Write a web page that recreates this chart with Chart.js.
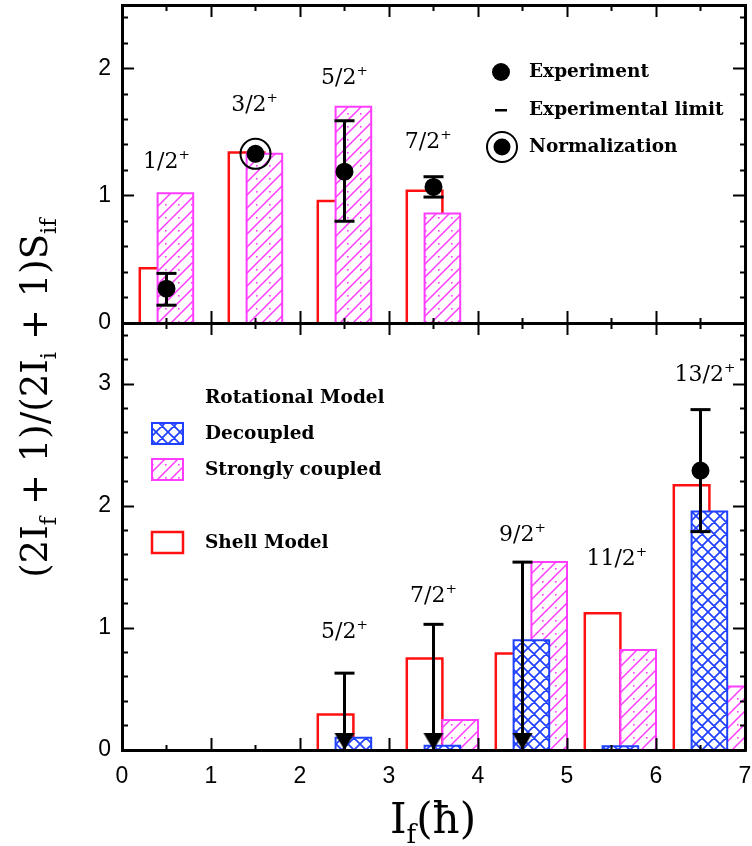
<!DOCTYPE html>
<html>
<head>
<meta charset="utf-8">
<title>Spectroscopic factors</title>
<script src="https://cdn.jsdelivr.net/npm/chart.js@4.4.1/dist/chart.umd.min.js"></script>
<style>
  html, body { margin: 0; padding: 0; background: #fff; }
  #wrap { position: relative; width: 752px; height: 846px; }
  #wrap canvas { position: absolute; left: 0; top: 0; }
</style>
</head>
<body>
<div id="wrap">
  <canvas id="lowerChart" width="752" height="846"></canvas>
  <canvas id="upperChart" width="752" height="846"></canvas>
</div>
<script>
// tick labels
var xTickLabels = [0, 1, 2, 3, 4, 5, 6, 7];
var upperYTickLabels = [0, 1, 2];
var lowerYTickLabels = [0, 1, 2, 3];

// upper panel
var upperStates = ['1/2', '3/2', '5/2', '7/2'];
var upperSpin = [0.5, 1.5, 2.5, 3.5];
var upperShell = [0.43, 1.34, 0.96, 1.04];
var upperStrong = [1.02, 1.33, 1.70, 0.86];
var upperExp = [0.27, null, 1.19, 1.07];
var upperExpLow = [0.14, null, 0.80, 0.99];
var upperExpHigh = [0.39, null, 1.59, 1.15];
var upperNorm = [null, 1.33, null, null];

// lower panel
var lowerStates = ['5/2', '7/2', '9/2', '11/2', '13/2'];
var lowerSpin = [2.5, 3.5, 4.5, 5.5, 6.5];
var lowerShell = [0.29, 0.75, 0.79, 1.12, 2.17];
var lowerDecoupled = [0.10, 0.035, 0.90, 0.03, 1.955];
var lowerStrong = [0, 0.245, 1.54, 0.82, 0.52];
var lowerExp = [null, null, null, null, 2.29];
var lowerExpLow = [null, null, null, null, 1.79];
var lowerExpHigh = [null, null, null, null, 2.79];
var lowerLimit = [0.63, 1.03, 1.54, null, null];

// where the state labels sit (axis units)
var upperLabelAt = [[0.5, 1.28], [1.49, 1.73], [2.5, 1.94], [3.44, 1.44]];
var lowerLabelAt = [[2.5, 0.98], [3.5, 1.28], [4.5, 1.78], [5.56, 1.58], [6.55, 3.09]];

// bar spans relative to the state spin
var SHELL_SPAN = [-0.3, 0.1];
var UPPER_STRONG_SPAN = [-0.1, 0.3];
var DECOUPLED_SPAN = [-0.1, 0.3];
var LOWER_STRONG_SPAN = [0.1, 0.5];

var RED = '#ff1010', MAGENTA = '#ff3cff', BLUE = '#2040ff';
var SERIF = '"DejaVu Serif", serif';

function isMajor(v) { return Math.abs(v - Math.round(v)) < 1e-6; }

// hatch patterns with white ground, so the bars hide what is behind
function makePattern(color, cross) {
  var s = cross ? 12 : 13;
  var c = document.createElement('canvas');
  c.width = s; c.height = s;
  var g = c.getContext('2d');
  g.fillStyle = '#fff';
  g.fillRect(0, 0, s, s);
  g.strokeStyle = color;
  g.lineWidth = cross ? 1.7 : 1.5;
  g.beginPath();
  g.moveTo(-2, s + 2); g.lineTo(s + 2, -2);
  g.moveTo(-2, 2); g.lineTo(2, -2);
  g.moveTo(s - 2, s + 2); g.lineTo(s + 2, s - 2);
  if (cross) {
    g.moveTo(-2, -2); g.lineTo(s + 2, s + 2);
    g.moveTo(s - 2, -2); g.lineTo(s + 2, 2);
    g.moveTo(-2, s - 2); g.lineTo(2, s + 2);
  }
  g.stroke();
  if (!cross) {
    g.fillStyle = color;
    g.fillRect(9, 9, 1.6, 1.6);
  }
  return g.createPattern(c, 'repeat');
}
var strongFill = makePattern(MAGENTA, false);
var decoupledFill = makePattern(BLUE, true);

// down arrow head, tip at the image centre
var arrowHead = document.createElement('canvas');
arrowHead.width = 22; arrowHead.height = 36;
(function () {
  var g = arrowHead.getContext('2d');
  g.fillStyle = '#000';
  g.beginPath();
  g.moveTo(1, 1); g.lineTo(21, 1); g.lineTo(11, 18);
  g.closePath(); g.fill();
})();

function barOutline(spins, values, span) {
  var pts = [];
  spins.forEach(function (c, i) {
    if (!values[i]) return;
    var a = c + span[0], b = c + span[1];
    pts.push({ x: a, y: 0 }, { x: a, y: values[i] }, { x: b, y: values[i] }, { x: b, y: 0 }, { x: b, y: null });
  });
  return pts;
}

function errorSegments(spins, low, high) {
  var pts = [];
  spins.forEach(function (c, i) {
    if (low[i] == null) return;
    pts.push({ x: c, y: low[i] }, { x: c, y: high[i] }, { x: c, y: null });
  });
  return pts;
}

function points(spins, values) {
  var pts = [];
  spins.forEach(function (c, i) {
    if (values[i] != null) pts.push({ x: c, y: values[i] });
  });
  return pts;
}

function limitSegments(spins, limits) {
  var pts = [], styles = [];
  spins.forEach(function (c, i) {
    if (limits[i] == null) return;
    pts.push({ x: c, y: limits[i] }, { x: c, y: 0 }, { x: c, y: null });
    styles.push('line', arrowHead, 'line');
  });
  return { pts: pts, styles: styles };
}

function shellSet(pts) {
  return { type: 'line', order: 3, data: pts, xAxisID: 'x', yAxisID: 'y', borderColor: RED, borderWidth: 2.5,
    borderJoinStyle: 'miter', fill: false, pointRadius: 0, tension: 0, spanGaps: false };
}
function hatchSet(pts, color, pattern, order) {
  return { type: 'line', order: order, data: pts, xAxisID: 'x', yAxisID: 'y', borderColor: color, borderWidth: 2,
    borderJoinStyle: 'miter', backgroundColor: pattern, fill: 'origin', pointRadius: 0, tension: 0, spanGaps: false };
}
function errorSet(pts, styles) {
  return { type: 'line', order: 0, data: pts, xAxisID: 'x', yAxisID: 'y', borderColor: '#000', borderWidth: 3,
    fill: false, tension: 0, spanGaps: false, pointStyle: styles || 'line', pointRadius: 10,
    pointBorderColor: '#000', pointBorderWidth: 3, pointBackgroundColor: '#000' };
}
function dotSet(pts, r, hollow) {
  return { type: 'line', order: -1, data: pts, xAxisID: 'x', yAxisID: 'y', showLine: false, pointStyle: 'circle',
    pointRadius: r, pointBorderWidth: 2, pointBorderColor: '#000',
    pointBackgroundColor: hollow ? 'rgba(0,0,0,0)' : '#000' };
}

// inward tick marks: majors 12px, minors cut to 6px with a dash
function tickGrid(innerFirst) {
  return {
    drawOnChartArea: false, drawTicks: true, tickLength: -12, tickWidth: 2, tickColor: '#000', z: 1,
    tickBorderDash: function (ctx) {
      if (!ctx.tick || isMajor(ctx.tick.value)) return [];
      return innerFirst ? [0, 6, 40] : [7, 40];
    }
  };
}
function labelCallback(list) {
  return function (v) {
    var r = Math.round(v);
    return isMajor(v) && list.indexOf(r) >= 0 ? String(r) : '';
  };
}
function noPadding(s) {
  s.paddingTop = 0; s.paddingBottom = 0; s.paddingLeft = 0; s.paddingRight = 0;
}
function xScale(pos, size, labels) {
  return {
    type: 'linear', position: pos, min: 0, max: 7,
    border: { color: '#000', width: 3, z: 1 },
    grid: tickGrid(pos === 'top'),
    ticks: { stepSize: 0.5, autoSkip: false, maxRotation: 0, display: !!labels, padding: 25, color: '#000',
      font: { family: '"Liberation Sans", sans-serif', size: 23 }, callback: labelCallback(labels || []) },
    afterFit: function (s) { s.height = size; noPadding(s); }
  };
}
function yScale(pos, max, size, labels) {
  return {
    type: 'linear', position: pos, min: 0, max: max,
    border: { color: '#000', width: 3, z: 1 },
    grid: tickGrid(pos === 'left'),
    ticks: { stepSize: 0.2, autoSkip: false, includeBounds: false, display: !!labels, padding: 23, color: '#000',
      font: { family: '"Liberation Sans", sans-serif', size: 23 }, callback: labelCallback(labels || []) },
    afterFit: function (s) { s.width = size; noPadding(s); }
  };
}

// text with sub/superscripts, y = middle of the capitals
function drawRich(ctx, parts, x, y, size, weight, vertical) {
  ctx.save();
  ctx.translate(x, y);
  if (vertical) ctx.rotate(-Math.PI / 2);
  ctx.fillStyle = '#000';
  ctx.textBaseline = 'alphabetic';
  ctx.textAlign = 'left';
  var widths = [], total = 0;
  parts.forEach(function (p) {
    ctx.font = (weight || 'normal') + ' ' + (p[1] ? size * 0.62 : size) + 'px ' + SERIF;
    var w = ctx.measureText(p[0]).width;
    widths.push(w); total += w;
  });
  var cx = -total / 2;
  parts.forEach(function (p, i) {
    ctx.font = (weight || 'normal') + ' ' + (p[1] ? size * 0.62 : size) + 'px ' + SERIF;
    var dy = p[1] === 'sub' ? size * 0.24 : (p[1] === 'sup' ? -size * 0.42 : 0);
    ctx.fillText(p[0], cx, size * 0.36 + dy);
    cx += widths[i];
  });
  ctx.restore();
}
function drawText(ctx, text, x, y, size, weight) {
  ctx.save();
  ctx.fillStyle = '#000';
  ctx.font = weight + ' ' + size + 'px ' + SERIF;
  ctx.textBaseline = 'middle';
  ctx.textAlign = 'left';
  ctx.fillText(text, x, y);
  ctx.restore();
}
function stateLabels(chart, states, at) {
  var ctx = chart.ctx, sx = chart.scales.x, sy = chart.scales.y;
  states.forEach(function (s, i) {
    drawRich(ctx, [[s], ['+', 'sup']], sx.getPixelForValue(at[i][0]), sy.getPixelForValue(at[i][1]), 22, 'normal');
  });
}

var baseOptions = {
  responsive: false, animation: false, events: [],
  layout: { padding: 0, autoPadding: false },
  plugins: { legend: { display: false }, tooltip: { enabled: false } }
};

// Upper panel
var upperCtx = document.getElementById('upperChart').getContext('2d');
new Chart(upperCtx, {
  type: 'line',
  data: {
    datasets: [
      shellSet(barOutline(upperSpin, upperShell, SHELL_SPAN)),
      hatchSet(barOutline(upperSpin, upperStrong, UPPER_STRONG_SPAN), MAGENTA, strongFill, 2),
      errorSet(errorSegments(upperSpin, upperExpLow, upperExpHigh)),
      dotSet(points(upperSpin, upperExp), 8, false),
      dotSet(points(upperSpin, upperNorm), 8, false),
      dotSet(points(upperSpin, upperNorm), 15, true)
    ]
  },
  options: Object.assign({}, baseOptions, {
    scales: {
      x: xScale('bottom', 523, null),
      xTop: xScale('top', 5, null),
      y: yScale('left', 2.5, 122, upperYTickLabels),
      yRight: yScale('right', 2.5, 7, null)
    }
  }),
  plugins: [{
    id: 'upperText',
    afterDraw: function (chart) {
      var ctx = chart.ctx;
      stateLabels(chart, upperStates, upperLabelAt);
      // legend
      ctx.save();
      ctx.fillStyle = '#000';
      ctx.beginPath(); ctx.arc(501, 72, 9, 0, Math.PI * 2); ctx.fill();
      ctx.fillRect(495, 109, 12, 2.5);
      ctx.beginPath(); ctx.arc(502, 147, 8.5, 0, Math.PI * 2); ctx.fill();
      ctx.lineWidth = 2; ctx.strokeStyle = '#000';
      ctx.beginPath(); ctx.arc(502, 147, 15, 0, Math.PI * 2); ctx.stroke();
      ctx.restore();
      drawText(ctx, 'Experiment', 529, 72, 18.5, 'bold');
      drawText(ctx, 'Experimental limit', 529, 110, 18.5, 'bold');
      drawText(ctx, 'Normalization', 529, 147, 18.5, 'bold');
    }
  }]
});

// Lower panel
var limits = limitSegments(lowerSpin, lowerLimit);
var lowerCtx = document.getElementById('lowerChart').getContext('2d');
new Chart(lowerCtx, {
  type: 'line',
  data: {
    datasets: [
      shellSet(barOutline(lowerSpin, lowerShell, SHELL_SPAN)),
      hatchSet(barOutline(lowerSpin, lowerStrong, LOWER_STRONG_SPAN), MAGENTA, strongFill, 2),
      hatchSet(barOutline(lowerSpin, lowerDecoupled, DECOUPLED_SPAN), BLUE, decoupledFill, 1),
      errorSet(limits.pts, limits.styles),
      errorSet(errorSegments(lowerSpin, lowerExpLow, lowerExpHigh)),
      dotSet(points(lowerSpin, lowerExp), 8, false)
    ]
  },
  options: Object.assign({}, baseOptions, {
    scales: {
      x: xScale('bottom', 96, xTickLabels),
      xTop: xScale('top', 323, null),
      y: yScale('left', 3.5, 122, lowerYTickLabels),
      yRight: yScale('right', 3.5, 7, null)
    }
  }),
  plugins: [{
    id: 'lowerText',
    afterDraw: function (chart) {
      var ctx = chart.ctx;
      stateLabels(chart, lowerStates, lowerLabelAt);
      // legend
      drawText(ctx, 'Rotational Model', 205, 398, 18.5, 'bold');
      ctx.save();
      ctx.fillStyle = decoupledFill; ctx.fillRect(152, 423, 31, 21);
      ctx.strokeStyle = BLUE; ctx.lineWidth = 2; ctx.strokeRect(152, 423, 31, 21);
      ctx.fillStyle = strongFill; ctx.fillRect(152, 459, 31, 21);
      ctx.strokeStyle = MAGENTA; ctx.strokeRect(152, 459, 31, 21);
      ctx.strokeStyle = RED; ctx.lineWidth = 2.5; ctx.strokeRect(152, 532, 31, 21);
      ctx.restore();
      drawText(ctx, 'Decoupled', 205, 434, 18.5, 'bold');
      drawText(ctx, 'Strongly coupled', 205, 470, 18.5, 'bold');
      drawText(ctx, 'Shell Model', 205, 543, 18.5, 'bold');
      // axis titles
      drawRich(ctx, [['I'], ['f', 'sub'], ['(\u0127)']], 433, 818, 42, 'normal');
      drawRich(ctx, [['(2I'], ['f', 'sub'], [' + 1)/(2I'], ['i', 'sub'], [' + 1)S'], ['if', 'sub']],
        34, 398, 37, 'normal', true);
    }
  }]
});
</script>
</body>
</html>
